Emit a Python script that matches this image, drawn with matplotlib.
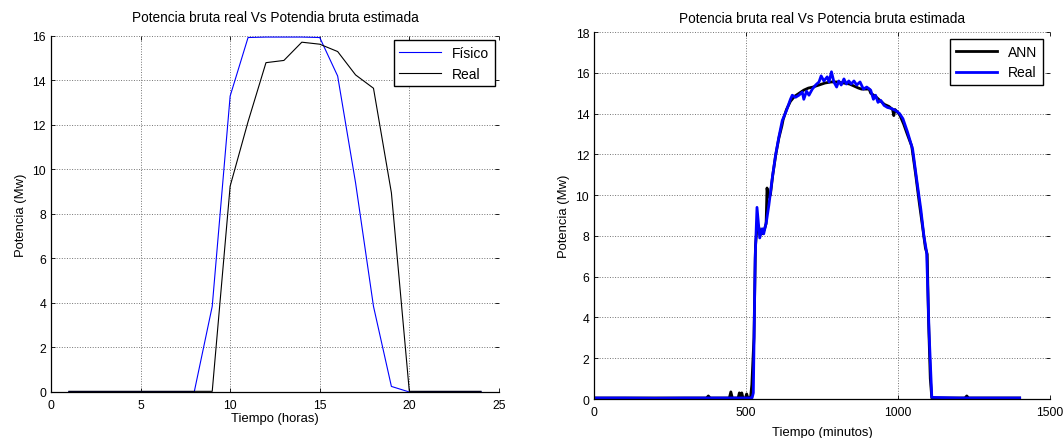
import matplotlib
matplotlib.use('Agg')
import matplotlib.pyplot as plt

plt.rcParams['font.family'] = ['Liberation Sans', 'DejaVu Sans']

# left chart: hourly values
horas = [1, 2, 3, 4, 5, 6, 7, 8, 9, 10, 11, 12,
         13, 14, 15, 16, 17, 18, 19, 20, 21, 22, 23, 24]
fisico = [0.02, 0.02, 0.02, 0.02, 0.02, 0.02, 0.02, 0.02, 3.85, 13.3, 15.93, 15.95,
          15.95, 15.95, 15.93, 14.2, 9.4, 3.85, 0.25, 0.0, 0.02, 0.02, 0.02, 0.02]
real_h = [0.03, 0.03, 0.03, 0.03, 0.03, 0.03, 0.03, 0.03, 0.03, 9.25, 12.15, 14.8,
          14.9, 15.72, 15.63, 15.3, 14.25, 13.65, 8.95, 0.03, 0.03, 0.03, 0.03, 0.03]

# right chart: minute values
min_real = [0, 100, 200, 300, 400, 500, 520, 524, 530, 536, 545, 553, 558, 567,
            575, 586, 597, 608, 619, 633, 646, 652, 663, 674, 685, 690, 699,
            707, 718, 729, 740, 747, 756, 767, 773, 781, 789, 798, 805, 813,
            822, 830, 838, 846, 855, 864, 875, 886, 897, 910, 919, 926, 934,
            943, 954, 965, 978, 992, 1005, 1016, 1031, 1048, 1061, 1075, 1085,
            1094, 1102, 1111, 1200, 1300, 1400]
val_real = [0.05, 0.05, 0.04, 0.05, 0.05, 0.05, 0.06, 0.3, 6.9, 9.4, 7.9, 8.35, 8.1, 8.7,
            9.5, 10.8, 11.95, 12.85, 13.65, 14.15, 14.7, 14.9, 14.8, 14.9, 15.05, 14.7, 15.1,
            14.9, 15.2, 15.4, 15.55, 15.85, 15.6, 15.8, 15.55, 16.05, 15.55, 15.3, 15.6, 15.4,
            15.7, 15.45, 15.6, 15.45, 15.6, 15.4, 15.55, 15.2, 15.3, 15.15, 14.7, 14.9, 14.55,
            14.65, 14.4, 14.3, 14.25, 14.15, 14.0, 13.75, 13.1, 12.25, 10.8, 9.3, 8.0,
            7.2, 3.3, 0.08, 0.05, 0.05, 0.05]

min_ann = [0, 370, 376, 382, 445, 450, 455, 474, 478, 482, 486, 490, 498, 502,
           506, 515, 519, 526, 531, 537, 545, 552, 560, 566, 569, 573, 580,
           588, 598, 608, 618, 622, 633, 646, 660, 675, 690, 705, 720, 740,
           760, 780, 800, 820, 840, 855, 870, 880, 905, 910, 925, 940, 955,
           970, 982, 986, 990, 1005, 1018, 1030, 1045, 1058, 1070, 1082, 1090,
           1096, 1100, 1106, 1111, 1220, 1226, 1232, 1400]
val_ann = [0.05, 0.05, 0.15, 0.05, 0.05, 0.35, 0.05, 0.05, 0.3, 0.1, 0.3, 0.05, 0.05, 0.25,
           0.05, 0.1, 0.7, 3.0, 7.5, 8.6, 8.3, 8.1, 8.3, 8.6, 10.35, 9.9, 10.0,
           11.0, 12.0, 12.8, 13.4, 13.7, 14.2, 14.6, 14.85, 15.0, 15.15, 15.25, 15.3, 15.4,
           15.5, 15.55, 15.55, 15.5, 15.45, 15.35, 15.25, 15.2, 15.2, 15.0, 14.85, 14.65, 14.45,
           14.35, 14.2, 13.9, 14.2, 13.95, 13.5, 13.0, 12.4, 11.0, 9.6, 8.3, 7.4,
           7.1, 4.0, 1.0, 0.05, 0.05, 0.15, 0.05, 0.05]


def style_axes(ax):
    """
        matlab-like look: dotted grid, ticks inside on all sides
    """
    ax.grid(True, color='0.45', linestyle=':', linewidth=0.7)
    ax.tick_params(direction='in', top=True, right=True, labelsize=8.8, length=3,
                   width=0.6)
    ax.tick_params(axis='x', pad=5)
    ax.tick_params(axis='y', pad=3.5)
    ax.spines['top'].set_visible(False)
    ax.spines['right'].set_visible(False)
    ax.spines['left'].set_linewidth(0.9)
    ax.spines['bottom'].set_linewidth(0.9)


def add_legend(ax, pad):
    leg = ax.legend(loc='upper right', fontsize=10, handlelength=3.0, fancybox=False,
                    framealpha=1, edgecolor='black', borderaxespad=pad)
    leg.get_frame().set_linewidth(1.0)
    return leg


fig = plt.figure(figsize=(10.64, 4.39), dpi=100)

ax1 = fig.add_axes([0.0479, 0.1048, 0.421, 0.811])
ax1.plot(horas, fisico, color='#0000ff', linewidth=0.8, label='Físico')
ax1.plot(horas, real_h, color='black', linewidth=0.8, label='Real')
ax1.set_xlim(0, 25)
ax1.set_ylim(0, 16)
ax1.set_xticks([0, 5, 10, 15, 20, 25])
ax1.set_yticks(range(0, 17, 2))
style_axes(ax1)
ax1.set_title('Potencia bruta real Vs Potendia bruta estimada', fontsize=9.8, pad=10.5)
ax1.set_xlabel('Tiempo (horas)', fontsize=9.4, labelpad=1)
ax1.set_ylabel('Potencia (Mw)', fontsize=9.4, labelpad=4)
add_legend(ax1, 0.3)

ax2 = fig.add_axes([0.5583, 0.0888, 0.4286, 0.836])
ax2.plot(min_ann, val_ann, color='black', linewidth=2.0, label='ANN')
ax2.plot(min_real, val_real, color='#0000ff', linewidth=2.0, label='Real')
ax2.set_xlim(0, 1500)
ax2.set_ylim(0, 18)
ax2.set_xticks([0, 500, 1000, 1500])
ax2.set_yticks(range(0, 19, 2))
style_axes(ax2)
ax2.set_title('Potencia bruta real Vs Potencia bruta estimada', fontsize=9.8, pad=7.5)
ax2.set_xlabel('Tiempo (minutos)', fontsize=9.4, labelpad=6)
ax2.set_ylabel('Potencia (Mw)', fontsize=9.4, labelpad=4)
add_legend(ax2, 0.5)

fig.savefig('out.png', dpi=100)
